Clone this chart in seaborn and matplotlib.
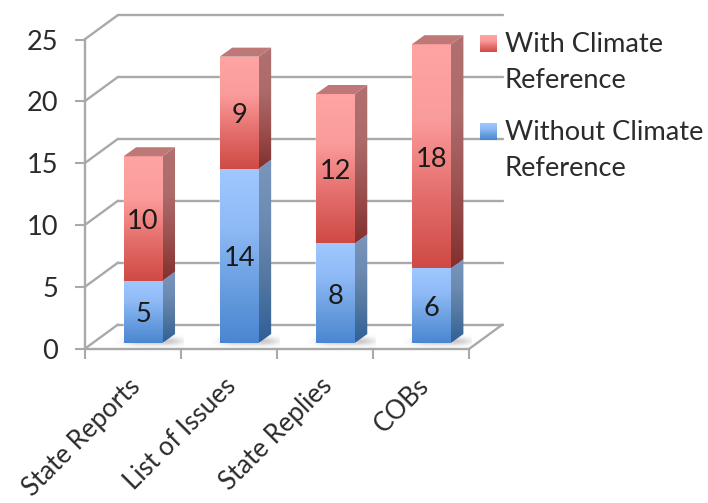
import numpy as np
import pandas as pd
import seaborn as sns
import matplotlib
matplotlib.use("Agg")
import matplotlib.pyplot as plt
from matplotlib.colors import LinearSegmentedColormap
from matplotlib.patches import Polygon
from matplotlib.transforms import ScaledTranslation

# Chart values
categories = ["State Reports", "List of Issues", "State Replies", "COBs"]
without_climate = [5, 14, 8, 6]
with_climate = [10, 9, 12, 18]
y_ticks = [0, 5, 10, 15, 20, 25]
legend_labels = ["With Climate\nReference", "Without Climate\nReference"]

W, H = 708, 503
GRID = "#a9a9a9"
INK = "#2b2b2b"
FONT = 19.6

sns.set_theme(style="white")
plt.rcParams["font.family"] = ["Lato", "DejaVu Sans"]

fig = plt.figure(figsize=(W / 100, H / 100), dpi=100, facecolor="white")


def px_axes(left, top, right, bottom, **kw):
    """Axes placed by pixel edges measured from the top-left corner."""
    return fig.add_axes([left / W, 1 - bottom / H, (right - left) / W, (bottom - top) / H], **kw)


def ramp(*colors):
    return LinearSegmentedColormap.from_list("ramp", colors)


RAMP = np.linspace(0, 1, 256)[:, None]
RED_FRONT = ramp("#cf4a45", "#e46f6c", "#fb9c9c", "#ffa3a3")
BLUE_FRONT = ramp("#4a86d0", "#6a9fe0", "#8fbaf6", "#a0c8ff")
RED_SIDE = ramp("#82302e", "#9b5150", "#ad6c6c", "#b07070")
BLUE_SIDE = ramp("#2f5f98", "#52779f", "#6d8ab2", "#7a96bc")
RED_TOP = "#bf7878"

# Front plane of the chart: value axis and category ticks
ax = px_axes(84.5, 39.5, 469, 349)
ax.set_xlim(-0.5, 3.5)
ax.set_ylim(0, 25)
ax.patch.set_visible(False)
sns.despine(ax=ax)
for side in ("left", "bottom"):
    ax.spines[side].set_color(GRID)
    ax.spines[side].set_linewidth(1.7)
ax.set_yticks(y_ticks)
ax.set_yticklabels([str(v) for v in y_ticks], fontsize=FONT, color=INK)
ax.set_xticks(np.arange(-0.5, 4))
ax.set_xticklabels([])
ax.set_xticks(np.arange(4), categories, minor=True)
ax.tick_params(axis="both", which="major", length=7, width=1.5, color=GRID, bottom=True, left=True)
ax.tick_params(axis="y", pad=12)
ax.tick_params(axis="x", which="minor", length=0, pad=24, labelsize=18.6, labelcolor=INK)
shift = ScaledTranslation(4 / 100, 0, fig.dpi_scale_trans)
for tick_label in ax.get_xticklabels(minor=True):
    tick_label.set(rotation=45, ha="right", va="center", rotation_mode="anchor")
    tick_label.set_transform(tick_label.get_transform() + shift)

# Back wall gridlines, floor outline and the receding connectors
wall_dx = 33.5 / 96.1
wall_dy = 24.5 / 12.38
line_kw = dict(color=GRID, lw=1.7, clip_on=False, solid_capstyle="round", zorder=0.5)
for v in y_ticks:
    ax.plot([-0.5 + wall_dx, 3.5 + wall_dx], [v + wall_dy, v + wall_dy], **line_kw)
    ax.plot([-0.5, -0.5 + wall_dx], [v, v + wall_dy], **line_kw)
ax.plot([3.5, 3.5 + wall_dx], [0, wall_dy], **line_kw)

# Bars stand slightly behind the front plane, so they get their own axes
bars = px_axes(95, 343 - 25 * 12.45, 479.5, 343)
bars.patch.set_visible(False)
totals = np.add(without_climate, with_climate)
frame = pd.DataFrame({"category": categories, "without": without_climate, "total": totals})
sns.barplot(data=frame, x="category", y="total", color="#e46f6c", width=0.405,
            errorbar=None, ax=bars, zorder=2)
n_red = len(bars.patches)
sns.barplot(data=frame, x="category", y="without", color="#6a9fe0", width=0.405,
            errorbar=None, ax=bars, zorder=2)
red_patches = bars.patches[:n_red]
blue_patches = bars.patches[n_red:]
bars.set_xlim(-0.5, 3.5)
bars.set_ylim(0, 25)

depth_x = 12.5 / 96.1
depth_y = 9 / 12.45
label_drop = 3 / 100


def shaded(target, verts, cmap, zorder):
    """Fill a polygon with a vertical colour ramp."""
    xs, ys = zip(*verts)
    img = target.imshow(RAMP, cmap=cmap, origin="lower", aspect="auto", interpolation="bilinear",
                        extent=(min(xs), max(xs), min(ys), max(ys)), zorder=zorder)
    img.set_clip_path(Polygon(verts, closed=True, transform=target.transData))


def draw_segment(patch, low, high, front, side, zorder):
    x0, x1 = patch.get_x(), patch.get_x() + patch.get_width()
    shaded(bars, [(x0, low), (x1, low), (x1, high), (x0, high)], front, zorder)
    shaded(bars, [(x1, low), (x1 + depth_x, low + depth_y),
                  (x1 + depth_x, high + depth_y), (x1, high)], side, zorder)


def value_label(x, y, value):
    bars.annotate(str(value), (x, y), xytext=(0, -label_drop * 72), textcoords="offset points",
                  ha="center", va="center", fontsize=FONT, color="#1a1a1a", zorder=5)


# Soft contact shadow on the floor
yy, xx = np.mgrid[0:40, 0:80]
shadow = np.zeros((40, 80, 4))
shadow[..., :3] = 0.55
shadow[..., 3] = 0.5 * np.exp(-((xx - 45) / 32.0) ** 4 - ((yy - 22) / 8.0) ** 2)

for i, (r, b) in enumerate(zip(red_patches, blue_patches)):
    base = without_climate[i]
    total = totals[i]
    x0 = b.get_x()
    x1 = x0 + b.get_width()
    bars.imshow(shadow, origin="upper", aspect="auto", zorder=1,
                extent=(x0 - 0.10, x1 + 0.22, -0.55, 1.0))
    draw_segment(b, 0, base, BLUE_FRONT, BLUE_SIDE, 3)
    draw_segment(r, base, total, RED_FRONT, RED_SIDE, 3)
    bars.add_patch(Polygon([(x0, total), (x1, total), (x1 + depth_x, total + depth_y),
                            (x0 + depth_x, total + depth_y)], closed=True,
                           fc=RED_TOP, ec="none", zorder=3, clip_on=False))
    mid = (x0 + x1) / 2
    value_label(mid, base / 2, without_climate[i])
    value_label(mid, base + with_climate[i] / 2, with_climate[i])
bars.set_xlim(-0.5, 3.5)
bars.set_ylim(0, 25)
bars.axis("off")
for img in bars.images:
    img.set_clip_on(True) if img.get_clip_path() is not None else img.set_clip_on(False)

# Legend: gradient swatches with two-line entries
for label, cmap, top in zip(legend_labels, (RED_FRONT, BLUE_FRONT), (35, 123)):
    swatch = px_axes(480, top, 497, top + 17)
    swatch.imshow(RAMP, cmap=cmap, origin="lower", aspect="auto")
    swatch.axis("off")
    fig.text(505 / W, 1 - (top - 3) / H, label, fontsize=FONT, color=INK, ha="left", va="top",
             linespacing=1.55)

fig.savefig("out.png", dpi=100, facecolor="white")
